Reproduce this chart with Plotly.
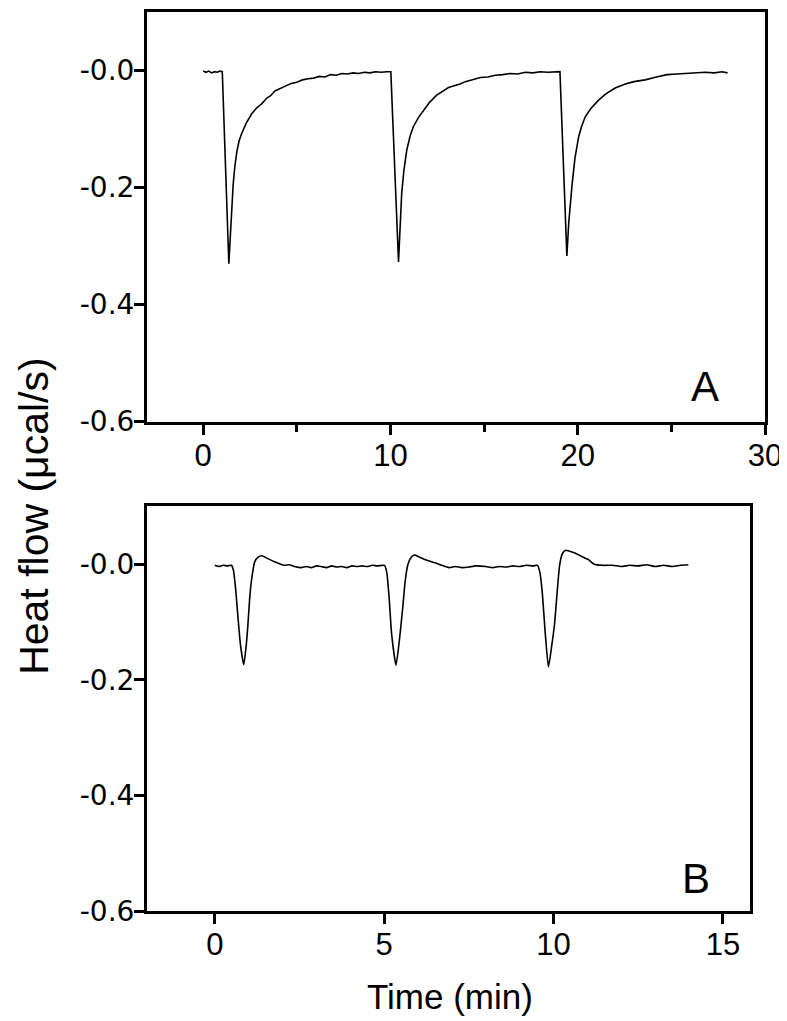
"""Heat flow traces for two injection series (panels A and B)."""
import plotly.graph_objects as go

# Panel A: time (min) and heat flow (ucal/s)
time_a = [0.0, 0.15, 0.3, 0.45, 0.6, 0.75, 0.9, 1.02, 1.37, 1.45, 1.52, 1.6, 1.69,
          1.8, 1.92, 2.05, 2.3, 2.59, 2.85, 3.12, 3.4, 3.6, 3.83, 4.1, 4.4, 4.7,
          5.0, 5.3, 5.6, 5.9, 6.2, 6.5, 6.8, 7.1, 7.4, 7.7, 8.0, 8.3, 8.6, 8.9,
          9.2, 9.5, 9.8, 10.02, 10.43, 10.52, 10.6, 10.72, 10.87, 11.05, 11.22,
          11.5, 11.76, 12.1, 12.47, 12.8, 13.1, 13.4, 13.72, 14.0, 14.4, 14.8,
          15.2, 15.6, 16.0, 16.4, 16.8, 17.2, 17.6, 18.0, 18.4, 18.8, 19.05,
          19.42, 19.52, 19.69, 19.85, 20.05, 20.2, 20.4, 20.7, 21.1, 21.5, 22.0,
          22.54, 23.0, 23.6, 24.2, 24.77, 25.3, 25.8, 26.3, 26.8, 27.3, 27.7, 28.0]
flow_a = [-0.001, -0.003, -0.001, -0.004, -0.002, -0.003, -0.001, -0.002, -0.330,
          -0.280, -0.232, -0.195, -0.164, -0.138, -0.120, -0.108, -0.090, -0.074,
          -0.064, -0.057, -0.047, -0.043, -0.035, -0.031, -0.027, -0.022, -0.020,
          -0.016, -0.014, -0.013, -0.010, -0.011, -0.007, -0.008, -0.005, -0.006,
          -0.004, -0.005, -0.003, -0.004, -0.002, -0.003, -0.002, -0.002, -0.327,
          -0.270, -0.210, -0.170, -0.136, -0.112, -0.096, -0.080, -0.068, -0.054,
          -0.042, -0.035, -0.029, -0.026, -0.023, -0.019, -0.016, -0.012, -0.011,
          -0.008, -0.007, -0.005, -0.006, -0.003, -0.004, -0.002, -0.003, -0.002,
          -0.002, -0.317, -0.260, -0.198, -0.150, -0.113, -0.096, -0.079, -0.065,
          -0.051, -0.040, -0.030, -0.023, -0.019, -0.016, -0.011, -0.007, -0.006,
          -0.005, -0.004, -0.003, -0.004, -0.002, -0.004]

# Panel B
time_b = [0.0, 0.12, 0.25, 0.37, 0.49, 0.55, 0.62, 0.69, 0.76, 0.855, 0.93, 0.98,
          1.03, 1.08, 1.18, 1.28, 1.39, 1.55, 1.77, 1.9, 2.06, 2.2, 2.35, 2.55,
          2.7, 2.85, 3.0, 3.14, 3.3, 3.45, 3.6, 3.75, 3.9, 4.05, 4.2, 4.35, 4.5,
          4.65, 4.8, 5.01, 5.08, 5.15, 5.22, 5.35, 5.45, 5.55, 5.62, 5.7, 5.8,
          5.89, 6.05, 6.2, 6.35, 6.53, 6.7, 6.92, 7.1, 7.3, 7.5, 7.7, 8.0, 8.2,
          8.4, 8.6, 8.8, 9.0, 9.2, 9.4, 9.53, 9.6, 9.67, 9.75, 9.85, 9.95, 10.03,
          10.12, 10.18, 10.26, 10.36, 10.55, 10.75, 10.95, 11.05, 11.2, 11.45,
          11.74, 12.0, 12.25, 12.5, 12.75, 13.0, 13.25, 13.5, 13.75, 13.98]
flow_b = [-0.002, -0.004, -0.002, -0.003, -0.002, -0.010, -0.045, -0.095, -0.140,
          -0.174, -0.140, -0.104, -0.060, -0.030, 0.004, 0.012, 0.0145, 0.010,
          0.004, 0.001, -0.002, -0.001, -0.004, -0.006, -0.004, -0.006, -0.003,
          -0.004, -0.006, -0.003, -0.005, -0.004, -0.006, -0.003, -0.004, -0.003,
          -0.004, -0.002, -0.003, -0.002, -0.015, -0.060, -0.120, -0.175, -0.132,
          -0.075, -0.030, -0.001, 0.012, 0.016, 0.012, 0.008, 0.005, 0.002,
          -0.002, -0.006, -0.004, -0.006, -0.005, -0.003, -0.004, -0.006, -0.004,
          -0.005, -0.003, -0.004, -0.002, -0.003, -0.002, -0.015, -0.050, -0.115,
          -0.178, -0.140, -0.104, -0.040, -0.002, 0.018, 0.024, 0.021, 0.016,
          0.010, 0.007, 0.000, -0.002, -0.002, -0.004, -0.002, -0.003, -0.001,
          -0.004, -0.002, -0.004, -0.002, -0.001]

y_tickvals = [0.0, -0.2, -0.4, -0.6]
y_ticktext = ["-0.0", "-0.2", "-0.4", "-0.6"]
xa_tickvals = [0, 10, 20, 30]
xa_minorvals = [5, 15, 25]
xb_tickvals = [0, 5, 10, 15]

FONT = "Liberation Sans, Arial, sans-serif"


def axis_style(**extra):
    """Common boxed axis styling"""
    style = dict(
        showline=True, linecolor="black", linewidth=3, mirror=True,
        ticks="outside", ticklen=10, tickwidth=3, tickcolor="black",
        showgrid=False, zeroline=False, ticklabelstandoff=-6,
        tickfont=dict(family=FONT, size=31, color="black"),
    )
    style.update(extra)
    return style


def create_heat_flow_figure() -> go.Figure:
    fig = go.Figure()

    fig.add_trace(go.Scatter(
        x=time_a, y=flow_a, mode="lines",
        line=dict(color="black", width=1.6),
        xaxis="x", yaxis="y", showlegend=False
    ))
    fig.add_trace(go.Scatter(
        x=time_b, y=flow_b, mode="lines",
        line=dict(color="black", width=1.6, shape="spline", smoothing=0.5),
        xaxis="x2", yaxis="y2", showlegend=False
    ))

    ytick_font = dict(family="DejaVu Sans, sans-serif", size=28, color="black")

    # page body adds an 8px offset, so margins are shifted to compensate
    fig.update_layout(
        width=787, height=1021,
        paper_bgcolor="white", plot_bgcolor="white",
        margin=dict(l=139, r=30, t=1, b=118),
        xaxis=axis_style(
            domain=[0, 1], range=[-3, 30], anchor="y",
            tickmode="array", tickvals=xa_tickvals,
            minor=dict(tickmode="array", tickvals=xa_minorvals, ticks="outside",
                       ticklen=7, tickwidth=3, tickcolor="black"),
        ),
        yaxis=axis_style(
            domain=[0.5443, 1], range=[-0.6, 0.1], anchor="x",
            tickmode="array", tickvals=y_tickvals, ticktext=y_ticktext,
            tickfont=ytick_font,
        ),
        xaxis2=axis_style(
            domain=[0, 0.9757], range=[-2, 15.8], anchor="y2",
            tickmode="array", tickvals=xb_tickvals,
        ),
        yaxis2=axis_style(
            domain=[0, 0.4501], range=[-0.6, 0.1], anchor="x2",
            tickmode="array", tickvals=y_tickvals, ticktext=y_ticktext,
            tickfont=ytick_font,
        ),
        annotations=[
            dict(text="A", x=26.8, y=-0.54, xref="x", yref="y", showarrow=False,
                 font=dict(family=FONT, size=42, color="black")),
            dict(text="B", x=14.2, y=-0.543, xref="x2", yref="y2", showarrow=False,
                 font=dict(family=FONT, size=42, color="black")),
            dict(text="Heat flow (μcal/s)", x=-0.182, y=0.439, xref="paper",
                 yref="paper", textangle=-90, showarrow=False,
                 xanchor="center", yanchor="middle",
                 font=dict(family=FONT, size=41, color="black")),
            dict(text="Time (min)", x=(450 - 147) / 618, y=-0.095, xref="paper",
                 yref="paper", showarrow=False, xanchor="center", yanchor="middle",
                 font=dict(family=FONT, size=35, color="black")),
        ],
    )
    return fig


fig = create_heat_flow_figure()
fig.write_html("out.html")
